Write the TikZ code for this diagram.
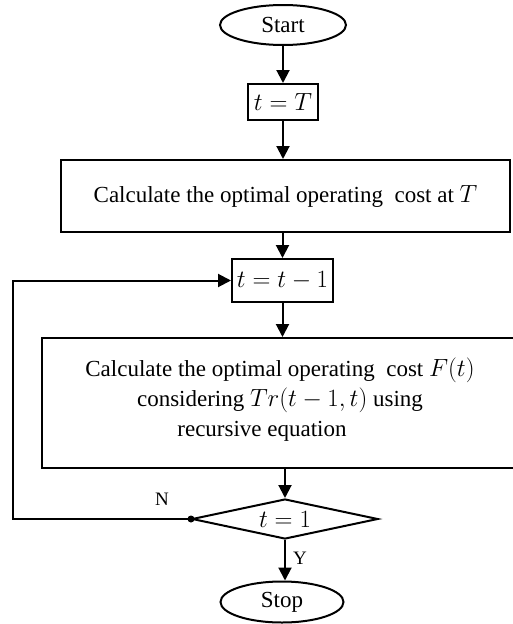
\documentclass[tikz,border=0pt]{standalone}
\usepackage{fontspec}
\setmainfont{Liberation Serif}
\usetikzlibrary{shapes.geometric,arrows.meta}
\begin{document}
\begin{tikzpicture}[x=1pt,y=-1pt,
  every node/.style={font=\fontsize{23}{30}\selectfont},
  arr/.style={line width=2pt,-{Triangle[length=13pt,width=13pt]}},
  box/.style={draw,line width=2pt,rectangle,inner sep=0pt},
  term/.style={draw,line width=2pt,ellipse,inner sep=0pt},
  lbl/.style={font=\fontsize{19}{20}\selectfont,inner sep=0pt}]
\clip (0,0) rectangle (513,624);
\useasboundingbox (0,0) rectangle (513,624);
\node[term,minimum width=126pt,minimum height=40pt] (start) at (283,25) {Start};
\node[box,minimum width=70pt,minimum height=36pt] (tT) at (283,102) {$t=T$};
\node[box,minimum width=449pt,minimum height=72pt] (calc1) at (285.5,196) {Calculate the optimal operating \ cost at $T$};
\node[box,minimum width=101pt,minimum height=43pt] (tt1) at (282.5,280.5) {$t=t-1$};
\node[box,minimum width=478pt,minimum height=130pt] (calc2) at (281,403) {};
\node[align=center,inner sep=0pt] (calc2text) at (280,400) {Calculate the optimal operating \ cost $F(t)$\\considering $Tr(t-1,t)$ using\\\hspace*{-36pt}recursive equation};
\node[draw,line width=2pt,diamond,minimum width=186pt,minimum height=40pt,inner sep=0pt,shape aspect=4.65] (dec) at (285,519) {$t=1$};
\node[term,minimum width=123pt,minimum height=41pt] (stop) at (282,602) {Stop};
\draw[arr] (start.south) -- (start.south |- tT.north);
\draw[arr] (start.south |- tT.south) -- (start.south |- calc1.north);
\draw[arr] (tt1.north |- calc1.south) -- (tt1.north);
\draw[arr] (tt1.south) -- (tt1.south |- calc2.north);
\draw[arr] (dec.north |- calc2.south) -- (dec.north);
\draw[arr] (dec.south) -- (dec.south |- stop.north);
\fill (dec.west) circle (3.5pt);
\draw[arr] (dec.west) -- ++(-178,0) |- (tt1.west);
\node[lbl] (nlab) at (162,499) {N};
\node[lbl] (ylab) at (300,558) {Y};
\end{tikzpicture}
\end{document}
